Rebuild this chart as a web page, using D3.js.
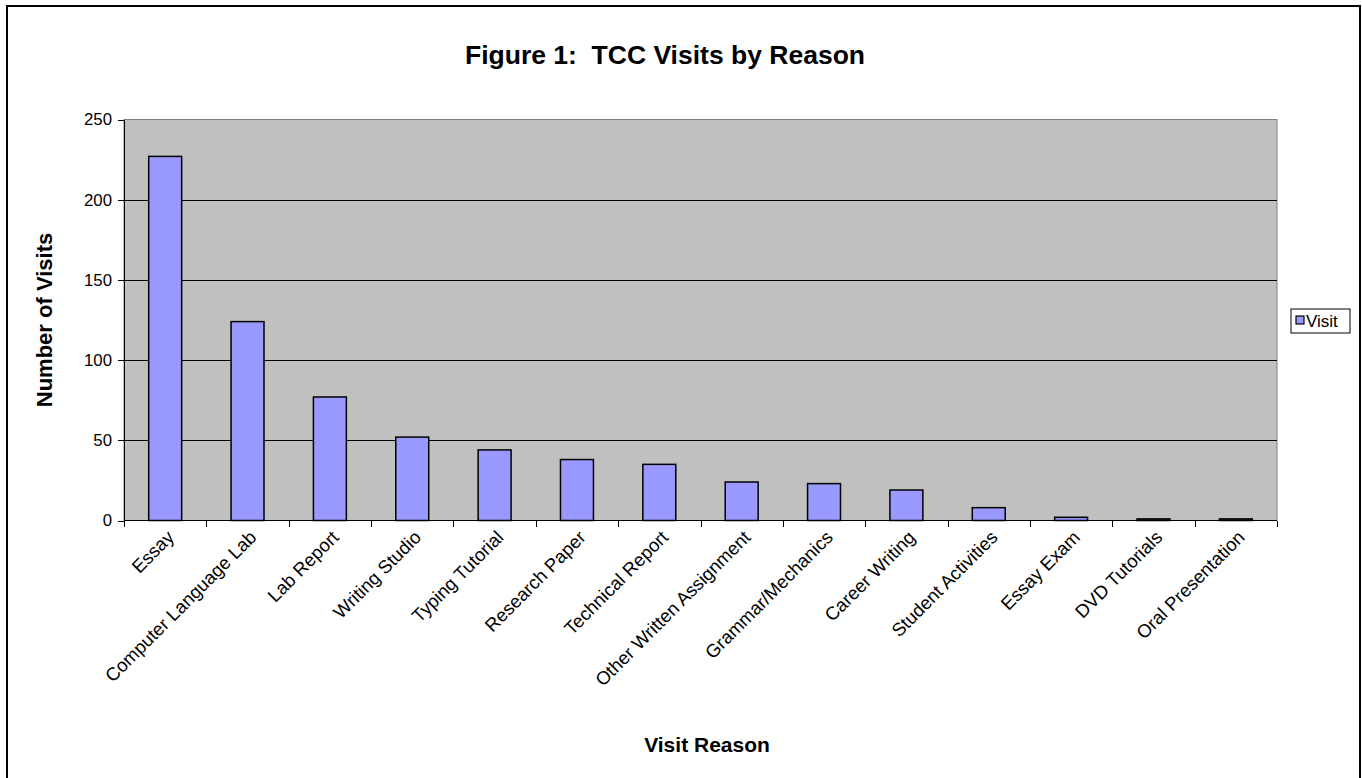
<!DOCTYPE html>
<meta charset="utf-8">
<style>
  body { margin: 0; background: #fff; }
  text { font-family: Arial, "Liberation Sans", sans-serif; }
  .grid line { stroke: #000; stroke-width: 1; shape-rendering: crispEdges; }
  .axis path, .axis line { stroke: #000; shape-rendering: crispEdges; }
</style>
<body>
<div id="chart"></div>
<script src="https://d3js.org/d3.v7.min.js"></script>
<script>
// chart data
var reasons = ["Essay", "Computer Language Lab", "Lab Report", "Writing Studio",
  "Typing Tutorial", "Research Paper", "Technical Report", "Other Written Assignment",
  "Grammar/Mechanics", "Career Writing", "Student Activities", "Essay Exam",
  "DVD Tutorials", "Oral Presentation"];
var visits = [227, 124, 77, 52, 44, 38, 35, 24, 23, 19, 8, 2, 1, 1];
var yTicks = [0, 50, 100, 150, 200, 250];
var seriesName = "Visit";

var width = 1362,
    height = 778;

// plot area
var plotL = 124, plotT = 119.5, plotR = 1277, plotB = 520.5;

var svg = d3.select("#chart").append("svg")
    .attr("width", width)
    .attr("height", height);

// outer frame
svg.append("rect")
    .attr("x", 7).attr("y", 6)
    .attr("width", 1353).attr("height", 800)
    .attr("fill", "#fff")
    .attr("stroke", "#000")
    .attr("stroke-width", 2);

var x = d3.scaleBand()
    .domain(reasons)
    .range([plotL, plotR])
    .paddingInner(0.6)
    .paddingOuter(0.3);

var xb = d3.scaleBand().domain(reasons).range([plotL, plotR]);

var y = d3.scaleLinear()
    .domain([0, 250])
    .range([plotB, plotT]);

// plot background
svg.append("rect")
    .attr("x", plotL).attr("y", plotT)
    .attr("width", plotR - plotL).attr("height", plotB - plotT)
    .attr("fill", "#c0c0c0")
    .attr("stroke", "#808080")
    .attr("stroke-width", 1);

// gridlines
svg.append("g")
    .attr("class", "grid")
  .selectAll("line")
    .data(yTicks.filter(function(d) { return d > 0 && d < 250; }))
  .enter().append("line")
    .attr("x1", plotL).attr("x2", plotR)
    .attr("y1", function(d) { return Math.round(y(d)) + 0.5; })
    .attr("y2", function(d) { return Math.round(y(d)) + 0.5; });

// bars
svg.append("g")
  .selectAll("rect")
    .data(visits)
  .enter().append("rect")
    .attr("x", function(d, i) { return x(reasons[i]); })
    .attr("y", function(d) { return y(d); })
    .attr("width", x.bandwidth())
    .attr("height", function(d) { return plotB - y(d); })
    .attr("fill", "#9999ff")
    .attr("stroke", "#000")
    .attr("stroke-width", 1.5);

// y axis
var yAxis = svg.append("g")
    .attr("class", "axis")
    .attr("transform", "translate(" + plotL + ",0)")
    .call(d3.axisLeft(y).tickValues(yTicks).tickSize(6).tickPadding(6).tickSizeOuter(0));
yAxis.selectAll("text")
    .style("font-size", "16.8px")
    .attr("fill", "#000");

// x axis: ticks on category boundaries
var xAxis = svg.append("g")
    .attr("class", "axis")
    .attr("transform", "translate(0," + plotB + ")");
xAxis.append("line")
    .attr("x1", plotL).attr("x2", plotR);
xAxis.selectAll(".tk")
    .data(reasons.concat(["_end"]))
  .enter().append("line")
    .attr("class", "tk")
    .attr("x1", function(d, i) { return Math.round(plotL + i * xb.step()) + 0.5; })
    .attr("x2", function(d, i) { return Math.round(plotL + i * xb.step()) + 0.5; })
    .attr("y1", 0).attr("y2", 6);

xAxis.selectAll(".lbl")
    .data(reasons)
  .enter().append("text")
    .attr("class", "lbl")
    .attr("text-anchor", "end")
    .attr("transform", function(d) {
      var cx = xb(d) + xb.bandwidth() / 2 + 10;
      return "translate(" + cx + ",18) rotate(-45)";
    })
    .style("font-size", "18.5px")
    .text(function(d) { return d; });

// title
svg.append("text")
    .attr("x", 665).attr("y", 64)
    .attr("text-anchor", "middle")
    .attr("xml:space", "preserve")
    .style("font-size", "26.5px")
    .style("font-weight", "bold")
    .text("Figure 1:  TCC Visits by Reason");

// axis titles
svg.append("text")
    .attr("transform", "translate(52,320) rotate(-90)")
    .attr("text-anchor", "middle")
    .style("font-size", "22px")
    .style("font-weight", "bold")
    .text("Number of Visits");

svg.append("text")
    .attr("x", 707).attr("y", 752)
    .attr("text-anchor", "middle")
    .style("font-size", "21px")
    .style("font-weight", "bold")
    .text("Visit Reason");

// legend
var legend = svg.append("g");
legend.append("rect")
    .attr("x", 1291).attr("y", 309)
    .attr("width", 59).attr("height", 24)
    .attr("fill", "#fff")
    .attr("stroke", "#000");
legend.append("rect")
    .attr("x", 1296).attr("y", 316)
    .attr("width", 8).attr("height", 8)
    .attr("fill", "#9999ff")
    .attr("stroke", "#000")
    .attr("stroke-width", 1.2);
legend.append("text")
    .attr("x", 1306).attr("y", 327)
    .style("font-size", "17px")
    .text(seriesName);
</script>
</body>
